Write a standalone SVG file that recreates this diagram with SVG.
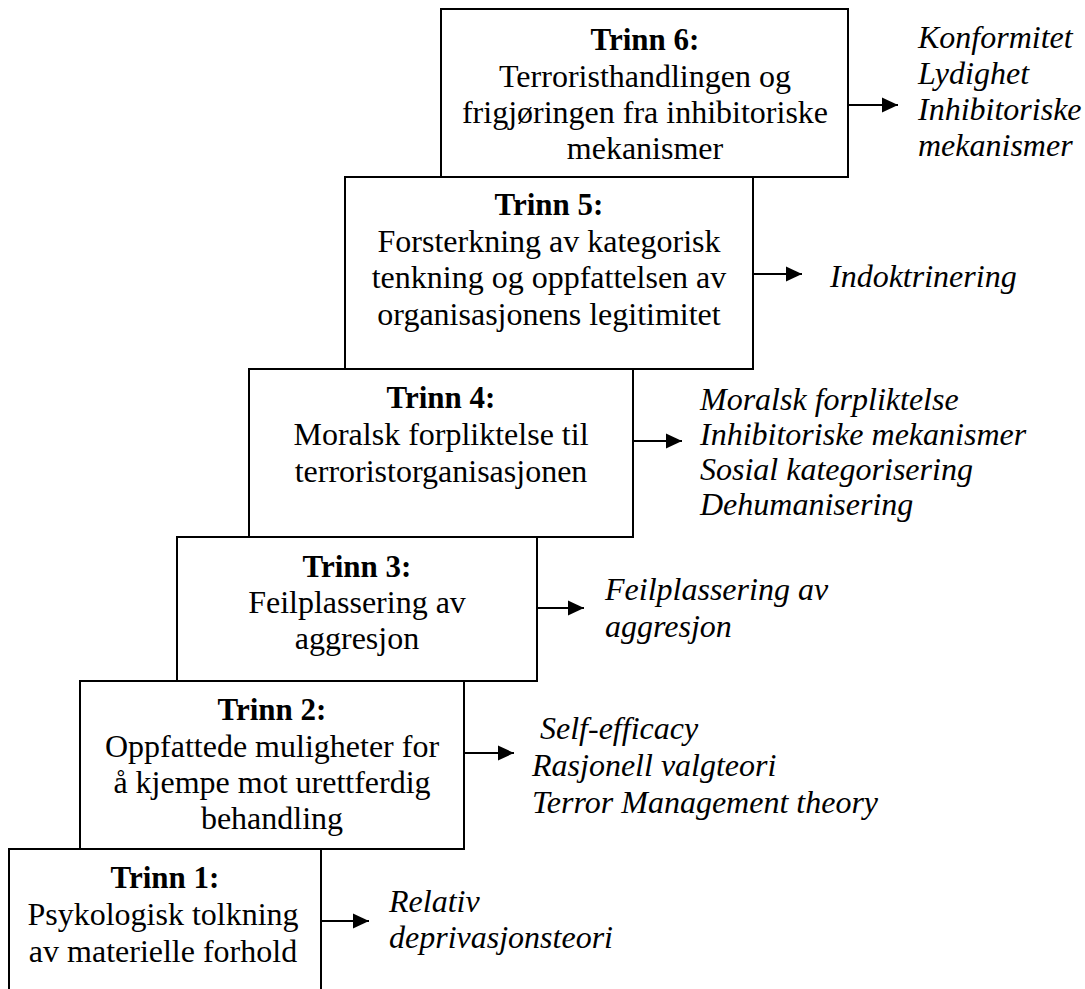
<svg xmlns="http://www.w3.org/2000/svg" width="1085" height="989" viewBox="0 0 1085 989">
<defs>
<marker id="ah" markerWidth="9" markerHeight="9" refX="8" refY="4.5" orient="auto" markerUnits="strokeWidth">
<path d="M0,0.7 L8,4.5 L0,8.3 Z" fill="#000"/>
</marker>
<style>
.box{fill:#fff;stroke:#000;stroke-width:2}
.t{font-family:"Liberation Serif","Times New Roman",serif;font-size:32px;fill:#000;text-anchor:middle}
.b{font-weight:bold;font-size:31px}
.l{font-family:"Liberation Serif","Times New Roman",serif;font-size:32px;font-style:italic;fill:#000}
.c{stroke:#000;stroke-width:2;fill:none;marker-end:url(#ah)}
</style>
</defs>
<rect width="1085" height="989" fill="#fff"/>
<g id="trinn1">
<rect class="box" x="9" y="849" width="312" height="170"/>
<text class="t b" x="165" y="888">Trinn 1:</text>
<text class="t" x="163" y="925">Psykologisk tolkning</text>
<text class="t" x="163" y="962">av materielle forhold</text>
</g>
<g id="trinn2">
<rect class="box" x="80" y="681" width="384" height="168"/>
<text class="t b" x="272" y="720">Trinn 2:</text>
<text class="t" x="272" y="757">Oppfattede muligheter for</text>
<text class="t" x="272" y="793">å kjempe mot urettferdig</text>
<text class="t" x="272" y="829">behandling</text>
</g>
<g id="trinn3">
<rect class="box" x="177" y="537" width="360" height="144"/>
<text class="t b" x="357" y="577">Trinn 3:</text>
<text class="t" x="357" y="613">Feilplassering av</text>
<text class="t" x="357" y="649">aggresjon</text>
</g>
<g id="trinn4">
<rect class="box" x="249" y="369" width="384" height="168"/>
<text class="t b" x="441" y="408">Trinn 4:</text>
<text class="t" x="441" y="445">Moralsk forpliktelse til</text>
<text class="t" x="441" y="482">terroristorganisasjonen</text>
</g>
<g id="trinn5">
<rect class="box" x="345" y="177" width="408" height="192"/>
<text class="t b" x="549" y="215">Trinn 5:</text>
<text class="t" x="549" y="252">Forsterkning av kategorisk</text>
<text class="t" x="549" y="288">tenkning og oppfattelsen av</text>
<text class="t" x="549" y="325">organisasjonens legitimitet</text>
</g>
<g id="trinn6">
<rect class="box" x="441" y="9" width="407" height="168"/>
<text class="t b" x="645" y="50">Trinn 6:</text>
<text class="t" x="645" y="87">Terroristhandlingen og</text>
<text class="t" x="645" y="123">frigjøringen fra inhibitoriske</text>
<text class="t" x="645" y="159">mekanismer</text>
</g>
<g id="connectors">
<line class="c" x1="321" y1="921" x2="369" y2="921"/>
<line class="c" x1="464" y1="753" x2="514" y2="753"/>
<line class="c" x1="537" y1="608" x2="584" y2="608"/>
<line class="c" x1="633" y1="441" x2="682" y2="441"/>
<line class="c" x1="753" y1="274" x2="802" y2="274"/>
<line class="c" x1="848" y1="105" x2="898" y2="105"/>
</g>
<g id="labels">
<text class="l" x="389" y="912">Relativ</text>
<text class="l" x="389" y="948">deprivasjonsteori</text>
<text class="l" x="540" y="739">Self-efficacy</text>
<text class="l" x="532" y="776">Rasjonell valgteori</text>
<text class="l" x="532" y="813">Terror Management theory</text>
<text class="l" x="605" y="600">Feilplassering av</text>
<text class="l" x="605" y="637">aggresjon</text>
<text class="l" x="700" y="410">Moralsk forpliktelse</text>
<text class="l" x="700" y="445">Inhibitoriske mekanismer</text>
<text class="l" x="700" y="480">Sosial kategorisering</text>
<text class="l" x="700" y="515">Dehumanisering</text>
<text class="l" x="830" y="287">Indoktrinering</text>
<text class="l" x="918" y="48">Konformitet</text>
<text class="l" x="918" y="84">Lydighet</text>
<text class="l" x="918" y="120">Inhibitoriske</text>
<text class="l" x="918" y="156">mekanismer</text>
</g>
</svg>
